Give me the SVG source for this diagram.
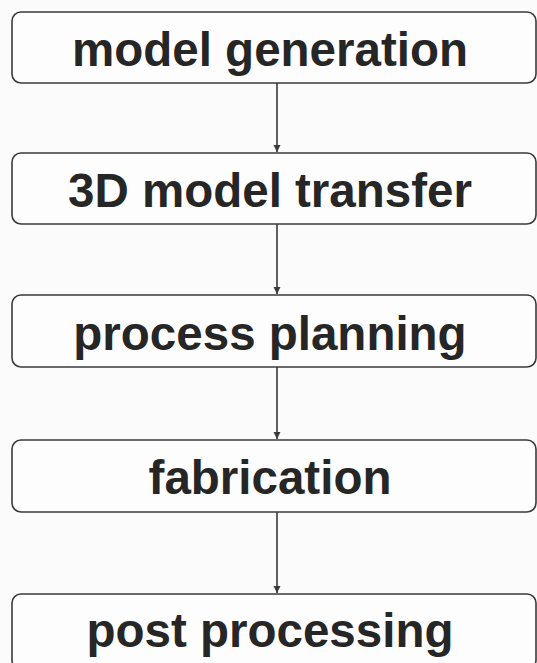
<svg xmlns="http://www.w3.org/2000/svg" width="537" height="663" viewBox="0 0 537 663">
  <style>
    .box { fill: #fdfdfd; stroke: #3a3a3a; stroke-width: 1.6; }
    .label { font-family: "Liberation Sans", Arial, sans-serif; font-weight: bold; font-size: 47.5px; fill: #262626; text-anchor: middle; }
    .link { stroke: #3a3a3a; stroke-width: 1.6; fill: none; marker-end: url(#arrow); }
  </style>
  <defs>
    <marker id="arrow" markerWidth="8" markerHeight="8" refX="7" refY="4" orient="auto" markerUnits="userSpaceOnUse">
      <path d="M0,0.5 L7,4 L0,7.5 Z" fill="#3a3a3a"/>
    </marker>
  </defs>
  <rect x="0" y="0" width="537" height="663" fill="#fbfbfb"/>

  <g id="connectors">
    <line class="link" x1="277" y1="83" x2="277" y2="152"/>
    <line class="link" x1="277" y1="224" x2="277" y2="294"/>
    <line class="link" x1="277" y1="367" x2="277" y2="439"/>
    <line class="link" x1="277" y1="512" x2="277" y2="593"/>
  </g>

  <g id="model-generation">
    <rect class="box" x="12" y="12" width="524" height="71" rx="9"/>
    <text class="label" x="270" y="66">model generation</text>
  </g>
  <g id="model-transfer">
    <rect class="box" x="12" y="153" width="524" height="71" rx="9"/>
    <text class="label" x="270" y="207">3D model transfer</text>
  </g>
  <g id="process-planning">
    <rect class="box" x="12" y="295" width="524" height="72" rx="9"/>
    <text class="label" x="270" y="350">process planning</text>
  </g>
  <g id="fabrication">
    <rect class="box" x="12" y="440" width="524" height="72" rx="9"/>
    <text class="label" x="270" y="494">fabrication</text>
  </g>
  <g id="post-processing">
    <rect class="box" x="12" y="594" width="524" height="75" rx="9"/>
    <text class="label" x="270" y="647">post processing</text>
  </g>
</svg>
